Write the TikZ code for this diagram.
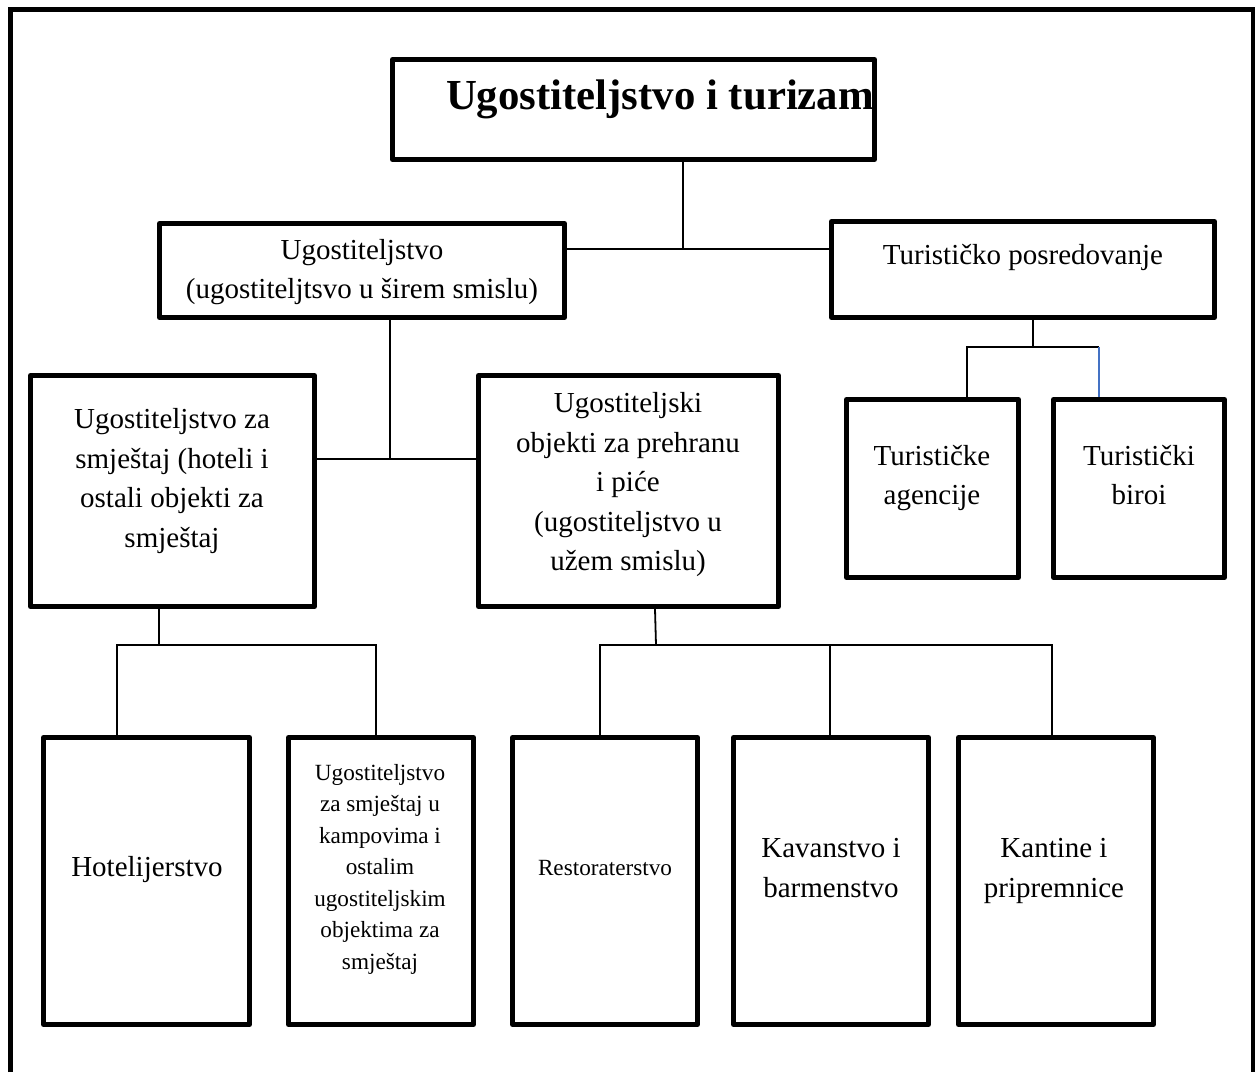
\documentclass[tikz,border=0pt]{standalone}
\usepackage{fontspec}
\setmainfont{Liberation Serif}
\begin{document}
\begin{tikzpicture}[x=1pt,y=-1pt,
  box/.style={draw, line width=5pt, line join=round, inner sep=0pt},
  conn/.style={draw, line width=1.8pt},
  txt/.style={align=center, inner sep=0pt, font=\fontsize{29}{39.5}\selectfont},
  smalltxt/.style={align=center, inner sep=0pt, font=\fontsize{23.2}{31.5}\selectfont}]
\definecolor{linkblue}{RGB}{68,114,196}
\useasboundingbox (0,0) rectangle (1255,1072);
% outer frame
\draw[line width=5pt] (10.5,1072) -- (10.5,9.5) -- (1253,9.5) -- (1253,1072);
% boxes
\node[box, minimum width=482pt, minimum height=100pt] (title) at (633.5,109.5) {};
\node[box, minimum width=405pt, minimum height=94pt] (ug) at (362,270.5) {};
\node[box, minimum width=383pt, minimum height=96pt] (tp) at (1023,269.5) {};
\node[box, minimum width=284pt, minimum height=231pt] (smj) at (172.5,491) {};
\node[box, minimum width=300pt, minimum height=231pt] (obj) at (628.5,491) {};
\node[box, minimum width=172pt, minimum height=178pt] (ag) at (932.5,488.5) {};
\node[box, minimum width=171pt, minimum height=178pt] (bir) at (1139,488.5) {};
\node[box, minimum width=206pt, minimum height=287pt] (hot) at (146.5,881) {};
\node[box, minimum width=185pt, minimum height=287pt] (kamp) at (381,881) {};
\node[box, minimum width=185pt, minimum height=287pt] (rest) at (605,881) {};
\node[box, minimum width=195pt, minimum height=287pt] (kav) at (831,881) {};
\node[box, minimum width=195pt, minimum height=287pt] (kant) at (1056,881) {};
% texts
\node[inner sep=0pt, font=\fontsize{42.8}{50}\selectfont\bfseries] (titletxt) at (660,99) {Ugostiteljstvo i turizam};
\node[txt] (ugtxt) at (362,272) {Ugostiteljstvo\\(ugostiteljtsvo u širem smislu)};
\node[txt] (tptxt) at (1023,257) {Turističko posredovanje};
\node[txt] (smjtxt) at (172,481) {Ugostiteljstvo za\\smještaj (hoteli i\\ostali objekti za\\smještaj};
\node[txt] (objtxt) at (628,485) {Ugostiteljski\\objekti za prehranu\\i piće\\(ugostiteljstvo u\\užem smislu)};
\node[txt] (agtxt) at (932,478) {Turističke\\agencije};
\node[txt] (birtxt) at (1139,475) {Turistički\\biroi};
\node[txt] (hottxt) at (147,870) {Hotelijerstvo};
\node[smalltxt] (kamptxt) at (380,869) {Ugostiteljstvo\\za smještaj u\\kampovima i\\ostalim\\ugostiteljskim\\objektima za\\smještaj};
\node[smalltxt] (resttxt) at (605,868) {Restoraterstvo};
\node[txt] (kavtxt) at (831,868) {Kavanstvo i\\barmenstvo};
\node[txt] (kanttxt) at (1054,871) {Kantine i\\pripremnice};
% connectors
\coordinate (j1) at (683,249);
\draw[conn] (title.south -| j1) -- (j1);
\draw[conn] (ug.east |- j1) -- (tp.west |- j1);
\coordinate (j2) at (390,459);
\draw[conn] (ug.south -| j2) -- (j2);
\draw[conn] (smj.east |- j2) -- (obj.west |- j2);
\coordinate (j3) at (1033,347);
\coordinate (j3a) at (967,347);
\coordinate (j3b) at (1099,347);
\draw[conn] (tp.south -| j3) -- (j3);
\draw[conn] (ag.north -| j3a) -- (j3a) -- (j3b);
\draw[line width=1.8pt, linkblue] (j3b) -- (bir.north -| j3b);
\coordinate (j4) at (159,645);
\coordinate (j4a) at (117,645);
\coordinate (j4b) at (376,645);
\draw[conn] (smj.south -| j4) -- (j4);
\draw[conn] (hot.north -| j4a) -- (j4a) -- (j4b) -- (kamp.north -| j4b);
\coordinate (j5) at (656,645);
\coordinate (j5a) at (600,645);
\coordinate (j5b) at (830,645);
\coordinate (j5c) at (1052,645);
\coordinate (j5top) at (655,609);
\draw[conn] (j5top) -- (j5);
\draw[conn] (rest.north -| j5a) -- (j5a) -- (j5c) -- (kant.north -| j5c);
\draw[conn] (j5b) -- (kav.north -| j5b);
\end{tikzpicture}
\end{document}
